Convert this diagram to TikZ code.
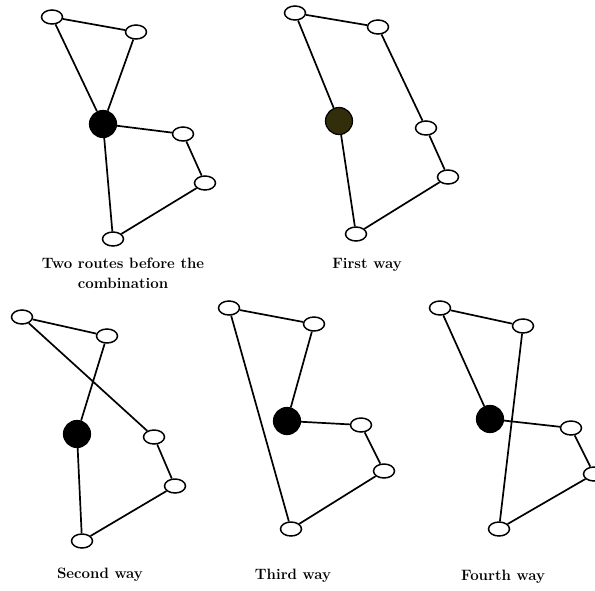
\documentclass[tikz,border=0pt]{standalone}
\usepackage{tikz}
\usetikzlibrary{positioning, shapes.geometric}
\usepackage{xcolor}
\definecolor{DG}{RGB}{0,0,0}
\definecolor{DO}{RGB}{50,45,10}

\begin{document}
\begin{tikzpicture}[x=1pt, y=-1pt,
  cust/.style={draw=DG, fill=white, ellipse, line width=1.5pt,
               minimum width=21pt, minimum height=14pt, inner sep=0pt},
  depot/.style={draw=DG, fill=#1, circle, line width=1.2pt,
                minimum size=27pt, inner sep=0pt},
  edge/.style={draw=DG, line width=1.7pt},
  lbl/.style={font=\fontsize{15}{20}\selectfont\bfseries, align=center}
]
\useasboundingbox (0,0) rectangle (595,590);

% Two routes before the combination
\node[depot=black] (d1) at (103,124) {};
\node[cust] (a1) at (52,17)   {};
\node[cust] (b1) at (136,32)  {};
\node[cust] (c1) at (183,134) {};
\node[cust] (e1) at (205,183) {};
\node[cust] (f1) at (113,239) {};
\draw[edge] (d1)--(a1)--(b1)--(d1);
\draw[edge] (d1)--(c1)--(e1)--(f1)--(d1);
\node[lbl] (t1) at (123,273) {Two routes before the\\combination};

% First way
\node[depot=DO] (d2) at (339,121) {};
\node[cust] (a2) at (295,13)  {};
\node[cust] (b2) at (378,27)  {};
\node[cust] (c2) at (426,128) {};
\node[cust] (e2) at (448,177) {};
\node[cust] (f2) at (356,234) {};
\draw[edge] (d2)--(a2)--(b2)--(c2)--(e2)--(f2)--(d2);
\node[lbl] (t2) at (367,265) {First way};

% Second way
\node[depot=black] (d3) at (77,434) {};
\node[cust] (a3) at (22,317)  {};
\node[cust] (b3) at (107,336) {};
\node[cust] (c3) at (154,437) {};
\node[cust] (e3) at (175,486) {};
\node[cust] (f3) at (82,541)  {};
\draw[edge] (d3)--(b3)--(a3)--(c3)--(e3)--(f3)--(d3);
\node[lbl] (t3) at (100,575) {Second way};

% Third way
\node[depot=black] (d4) at (287,421) {};
\node[cust] (a4) at (229,308) {};
\node[cust] (b4) at (314,324) {};
\node[cust] (c4) at (361,425) {};
\node[cust] (e4) at (384,471) {};
\node[cust] (f4) at (291,529) {};
\draw[edge] (d4)--(b4)--(a4)--(f4)--(e4)--(c4)--(d4);
\node[lbl] (t4) at (293,576) {Third way};

% Fourth way
\node[depot=black] (d5) at (490,419) {};
\node[cust] (a5) at (440,308) {};
\node[cust] (b5) at (523,326) {};
\node[cust] (c5) at (571,428) {};
\node[cust] (e5) at (594,474) {};
\node[cust] (f5) at (499,529) {};
\draw[edge] (d5)--(a5)--(b5)--(f5)--(e5)--(c5)--(d5);
\node[lbl] (t5) at (503,577) {Fourth way};
\end{tikzpicture}
\end{document}
